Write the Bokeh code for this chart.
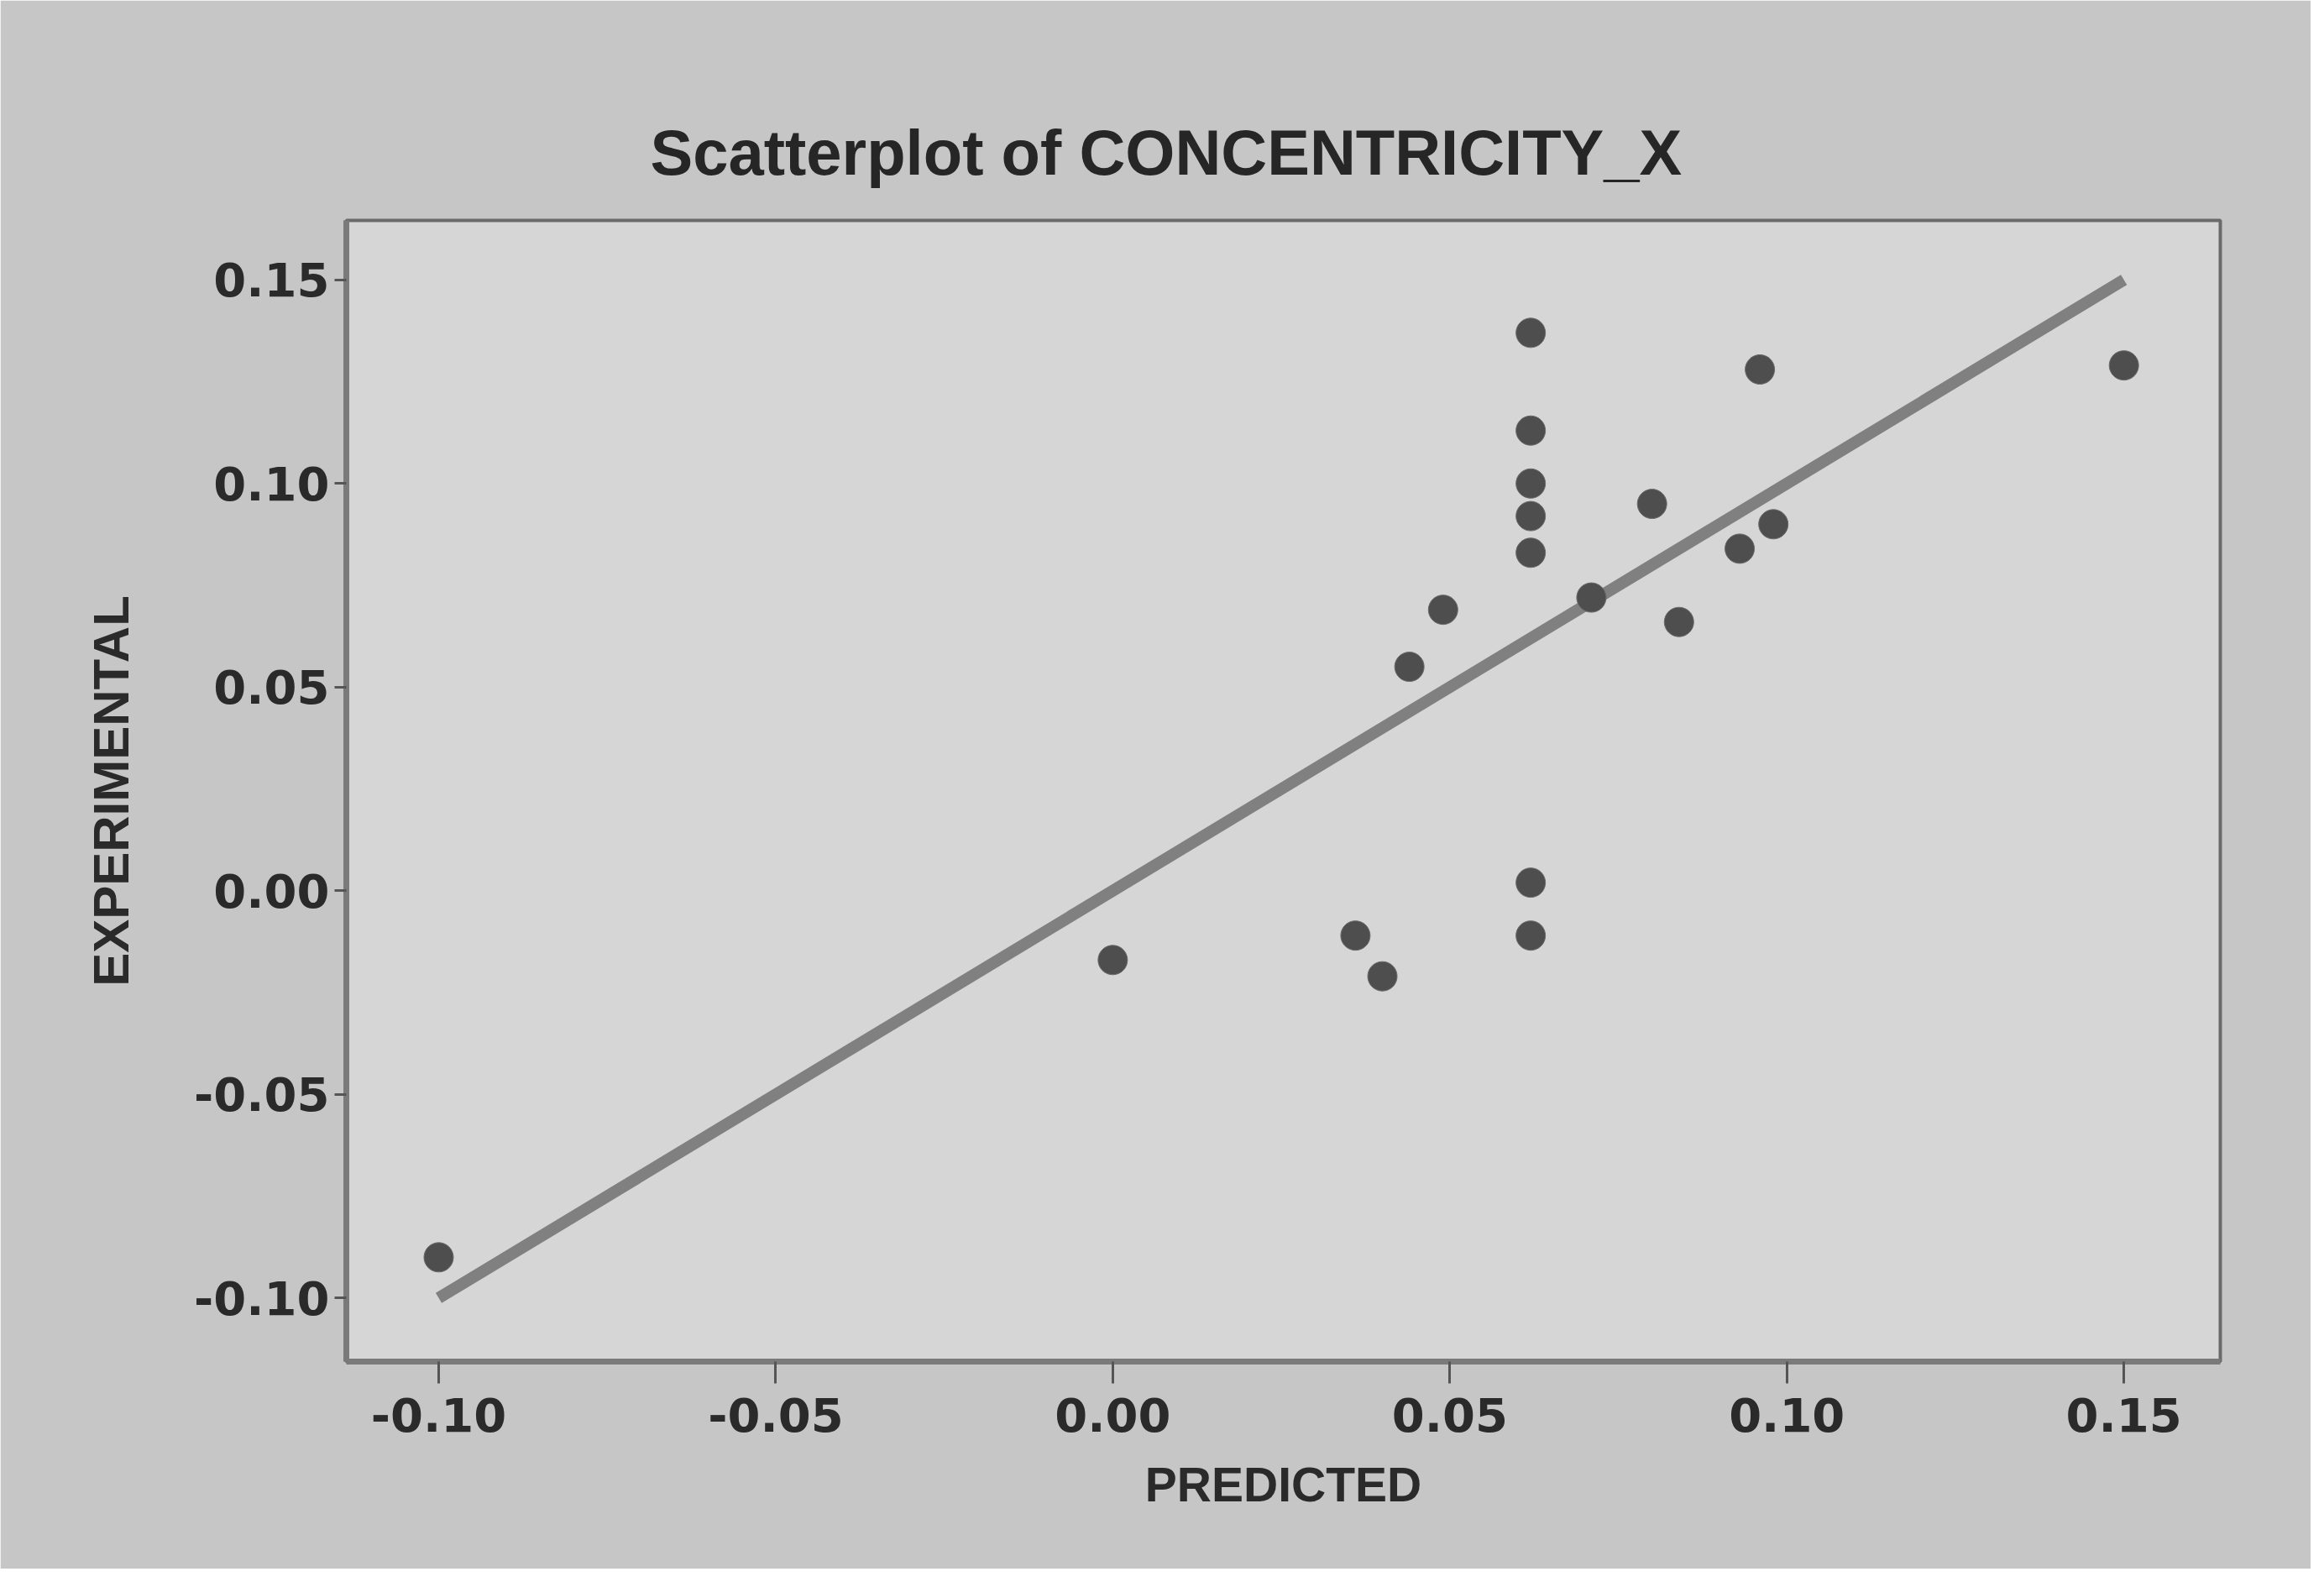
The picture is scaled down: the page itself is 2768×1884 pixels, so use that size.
from bokeh.plotting import figure
from bokeh.models import Range1d, FixedTicker, PrintfTickFormatter
from bokeh.embed import file_html
from bokeh.resources import INLINE

# ---- data ----
predicted = [-0.100, 0.000, 0.036, 0.040, 0.044, 0.049,
             0.062, 0.062, 0.062, 0.062, 0.062, 0.062, 0.062,
             0.071, 0.080, 0.084, 0.093, 0.096, 0.098, 0.150]
experimental = [-0.090, -0.017, -0.011, -0.021, 0.055, 0.069,
                0.137, 0.113, 0.100, 0.092, 0.083, 0.002, -0.011,
                0.072, 0.095, 0.066, 0.084, 0.128, 0.090, 0.129]
ref_x = [-0.10, 0.15]
ref_y = [-0.10, 0.15]
x_ticks = [-0.10, -0.05, 0.00, 0.05, 0.10, 0.15]
y_ticks = [-0.10, -0.05, 0.00, 0.05, 0.10, 0.15]
title_text = "Scatterplot of CONCENTRICITY_X"
x_label = "PREDICTED"
y_label = "EXPERIMENTAL"

p = figure(width=2752, height=1868, output_backend="svg", toolbar_location=None,
           x_range=Range1d(-0.1137, 0.1643), y_range=Range1d(-0.1156, 0.1646),
           min_border_left=412, min_border_right=108, min_border_top=262,
           min_border_bottom=247)

p.background_fill_color = "#d6d6d6"
p.border_fill_color = "#c6c6c6"
p.outline_line_color = "#6a6a6a"
p.outline_line_width = 4
p.grid.visible = False

p.title.text = title_text
p.title.align = "left"
p.title.offset = 362
p.title.standoff = 78
p.title.text_font = "Liberation Sans"
p.title.text_font_style = "bold"
p.title.text_font_size = "76px"
p.title.text_color = "#262626"

for ax in (p.xaxis[0], p.yaxis[0]):
    ax.major_label_text_font = "DejaVu Sans"
    ax.major_label_text_font_style = "bold"
    ax.major_label_text_font_size = "56px"
    ax.major_label_text_color = "#2a2a2a"
    ax.axis_label_text_font = "Liberation Sans"
    ax.axis_label_text_font_style = "bold"
    ax.axis_label_text_color = "#2a2a2a"
    ax.axis_line_color = "#7a7a7a"
    ax.axis_line_width = 7
    ax.major_tick_line_color = "#555555"
    ax.major_tick_line_width = 3
    ax.major_tick_in = 0
    ax.minor_tick_line_color = None
    ax.formatter = PrintfTickFormatter(format="%.2f")

p.xaxis.ticker = FixedTicker(ticks=x_ticks)
p.yaxis.ticker = FixedTicker(ticks=y_ticks)
p.xaxis.axis_label = x_label
p.yaxis.axis_label = y_label
p.xaxis.axis_label_text_font_size = "57px"
p.yaxis.axis_label_text_font_size = "60px"
p.xaxis.major_tick_out = 26
p.xaxis.major_label_standoff = 17
p.xaxis.axis_label_standoff = 28
p.yaxis.major_tick_out = 14
p.yaxis.major_label_standoff = 6
p.yaxis.axis_label_standoff = 62

p.line(ref_x, ref_y, line_color="#808080", line_width=14)
p.scatter(predicted, experimental, size=35, fill_color="#4e4e4e",
          line_color="#6a6a6a", line_width=1)

open("out.html", "w").write(file_html(p, INLINE))
